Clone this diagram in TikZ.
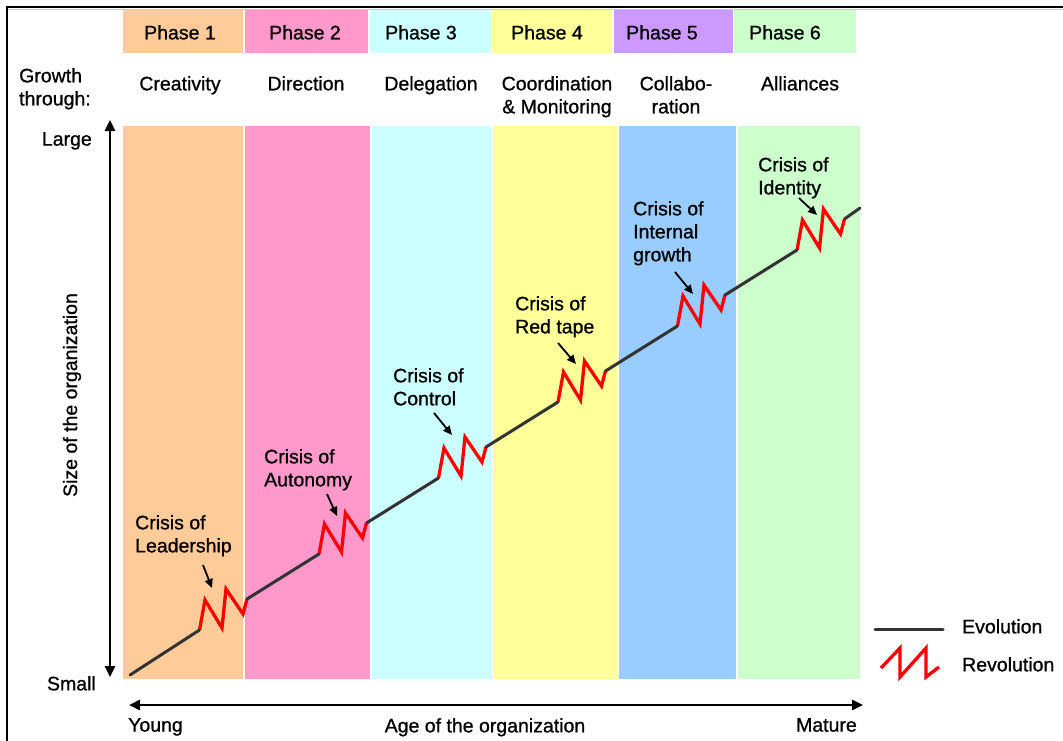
\documentclass[tikz,border=0pt]{standalone}
\usepackage{fontspec}
\setmainfont{Liberation Sans}[FakeBold=0.9]
\usetikzlibrary{arrows.meta}
\definecolor{cA}{HTML}{FFCC99}
\definecolor{cB}{HTML}{FF99CC}
\definecolor{cC}{HTML}{CCFFFF}
\definecolor{cD}{HTML}{FFFF99}
\definecolor{cEh}{HTML}{CC99FF}
\definecolor{cE}{HTML}{99CCFF}
\definecolor{cF}{HTML}{CCFFCC}
\definecolor{evocol}{HTML}{333333}
\begin{document}
\begin{tikzpicture}[x=1pt,y=-1pt,
  txt/.style={font=\fontsize{19.5}{23}\selectfont, inner sep=0pt},
  lbl/.style={txt, align=left, anchor=north west},
  ctr/.style={txt, align=center, anchor=north},
  evo/.style={line width=3pt, draw=evocol, line cap=round},
  rev/.style={line width=3.3pt, draw=red, line join=miter},
  pointer/.style={line width=1.8pt, -{Triangle[length=9pt,width=8pt]}},
  axis/.style={line width=2.5pt, {Triangle[length=11pt,width=10pt]}-{Triangle[length=11pt,width=10pt]}}
]
\useasboundingbox (0,0) rectangle (1063,740);
\fill[white] (0,0) rectangle (1063,740);
% frame
\draw[line width=2pt] (7,760) -- (7,7) -- (1080,7);
\draw[line width=0.8pt, gray!40] (8,9) -- (1080,9);

% header boxes
\fill[cA]  (123,10) rectangle (243,53);
\fill[cB]  (245,10) rectangle (368,53);
\fill[cC]  (370,10) rectangle (491,53);
\fill[cD]  (492,10) rectangle (612,53);
\fill[cEh] (614,10) rectangle (733,53);
\fill[cF]  (734,10) rectangle (856,53);
\node[ctr] (p1) at (180,25) {Phase 1};
\node[ctr] (p2) at (305,25) {Phase 2};
\node[ctr] (p3) at (421,25) {Phase 3};
\node[ctr] (p4) at (547,25) {Phase 4};
\node[ctr] (p5) at (662,25) {Phase 5};
\node[ctr] (p6) at (785,25) {Phase 6};

% growth through
\node[lbl] (gt) at (19,68) {Growth\\through:};
\node[ctr] (g1) at (180,76) {Creativity};
\node[ctr] (g2) at (306,76) {Direction};
\node[ctr] (g3) at (431,76) {Delegation};
\node[ctr] (g4) at (557,76) {Coordination\\\& Monitoring};
\node[ctr] (g5) at (676,76) {Collabo-\\ration};
\node[ctr] (g6) at (800,76) {Alliances};

% body columns
\fill[cA] (123,126) rectangle (243,679);
\fill[cB] (245,126) rectangle (370,679);
\fill[cC] (372,126) rectangle (492,679);
\fill[cD] (493,126) rectangle (617,679);
\fill[cE] (619,126) rectangle (736,679);
\fill[cF] (738,126) rectangle (860,679);

% axes
\coordinate (ytop) at (110,120);
\coordinate (ybot) at (110,677);
\draw[axis] (ytop) -- (ybot);
\coordinate (xl) at (129,705);
\coordinate (xr) at (863,705);
\draw[axis] (xl) -- (xr);
\node[txt, anchor=north east] (large) at (92,132) {Large};
\node[txt, anchor=north east] (small) at (96,676) {Small};
\node[txt, rotate=90] (ylab) at (72,395) {Size of the organization};
\node[txt, anchor=north west] (young) at (128,718) {Young};
\node[txt, anchor=north] (xlab) at (485,718) {Age of the organization};
\node[txt, anchor=north east] (mature) at (857,718) {Mature};

% evolution / revolution curve
\coordinate (e0) at (130,675);
\foreach \k [evaluate=\k as \x using 199.5+119.5*\k, evaluate=\k as \y using 630-76*\k] in {0,...,5}{
  \coordinate (s\k) at (\x,\y);
  \draw[rev] (\x,\y) -- ++(5.5,-30) -- ++(17,28) -- ++(4,-39) -- ++(17,25) -- ++(4,-15);
  \coordinate (z\k) at ({\x+47.5},{\y-31});
}
\draw[evo] (e0) -- (s0);
\draw[evo] (z0) -- (s1);
\draw[evo] (z1) -- (s2);
\draw[evo] (z2) -- (s3);
\draw[evo] (z3) -- (s4);
\draw[evo] (z4) -- (s5);
\coordinate (eend) at (860,208);
\draw[evo] (z5) -- (eend);

% crisis labels
\node[lbl] (c1) at (135,515) {Crisis of\\Leadership};
\node[lbl] (c2) at (264,449) {Crisis of\\Autonomy};
\node[lbl] (c3) at (393,368) {Crisis of\\Control};
\node[lbl] (c4) at (515,296) {Crisis of\\Red tape};
\node[lbl] (c5) at (633,201) {Crisis of\\Internal\\growth};
\node[lbl] (c6) at (758,157) {Crisis of\\Identity};

% pointers
\coordinate (q1a) at (203,565); \coordinate (q1b) at (212,588);
\coordinate (q2a) at (327,494); \coordinate (q2b) at (337,516);
\coordinate (q3a) at (434,413); \coordinate (q3b) at (452,435);
\coordinate (q4a) at (558,343); \coordinate (q4b) at (576,364);
\coordinate (q5a) at (675,272); \coordinate (q5b) at (693,294);
\coordinate (q6a) at (799,198); \coordinate (q6b) at (817,215);
\foreach \i in {1,...,6}{ \draw[pointer] (q\i a) -- (q\i b); }

% legend
\coordinate (le1) at (875,629); \coordinate (le2) at (943,629);
\draw[evo] (le1) -- (le2);
\draw[rev] (881,668) -- (900,648) -- (900,677) -- (926,648) -- (926,677) -- (939,667);
\node[lbl] (lev) at (962,619) {Evolution};
\node[lbl] (lrev) at (962,657) {Revolution};
\end{tikzpicture}
\end{document}
